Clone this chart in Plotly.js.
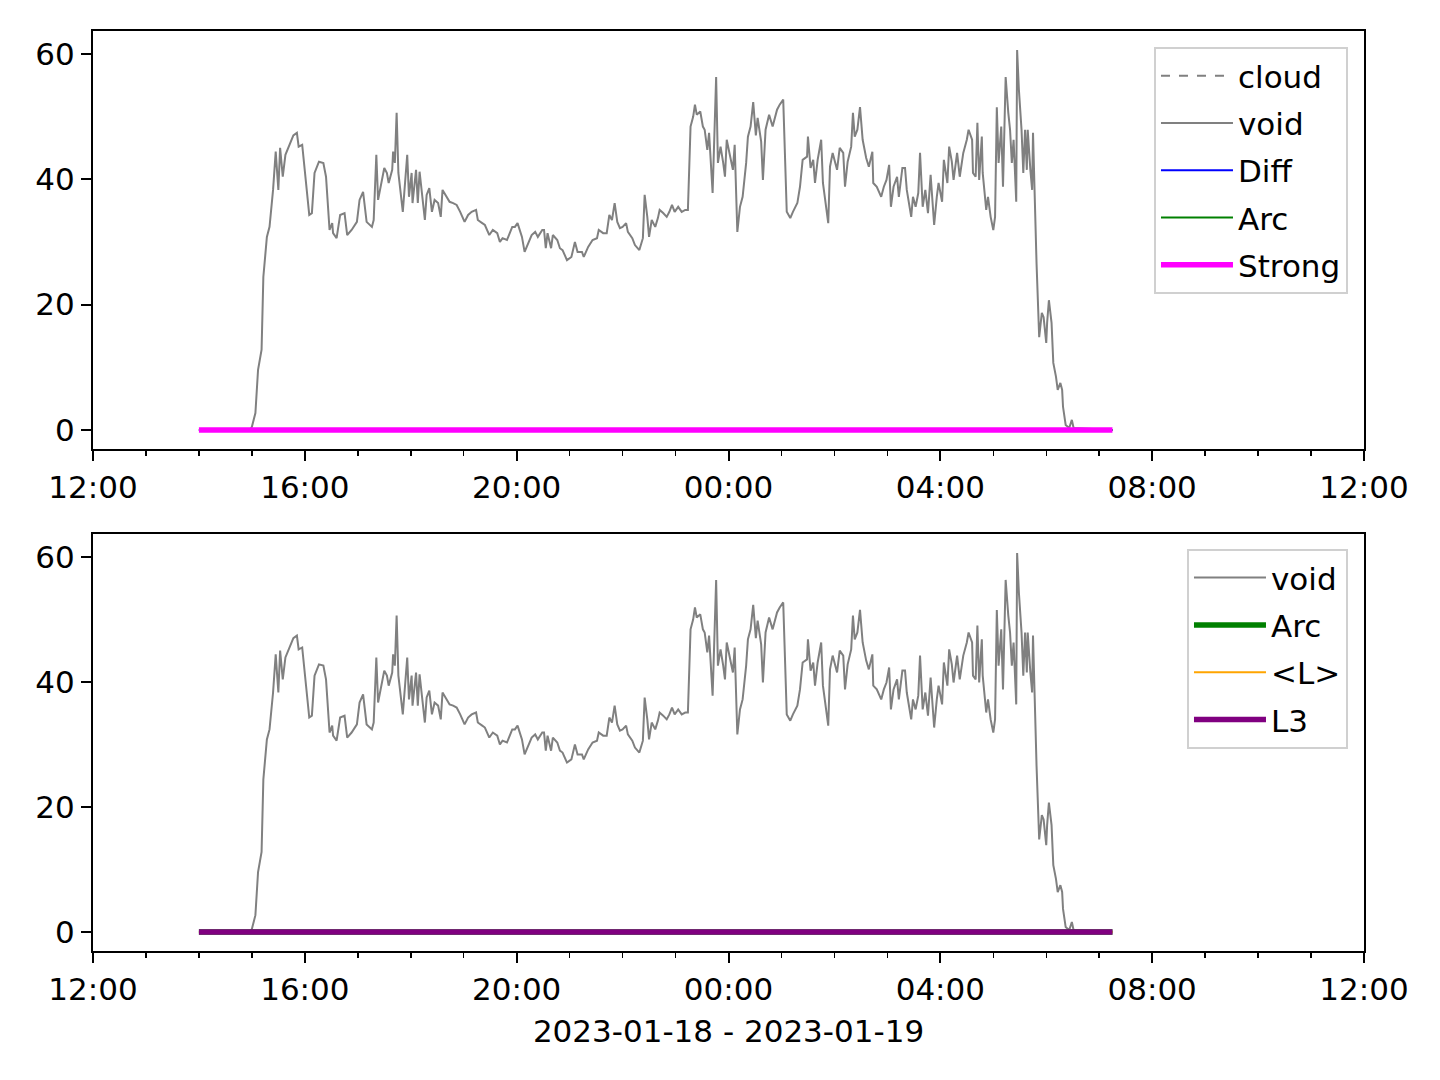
<!DOCTYPE html>
<html>
<head>
<meta charset="utf-8">
<script src="https://cdn.plot.ly/plotly-3.0.1.min.js"></script>
<style>html,body{margin:0;padding:0;background:#fff;}#chart{width:1440px;height:1080px;}</style>
</head>
<body>
<div id="chart"></div>
<script>
// minutes after 2023-01-18 12:00
const voidMinutes = [120,178,180,184,187,191,193,197,200,204,207,210,212,215,218,223,227,231,233,237,240,245,248,251,256,261,264,268,271,272,276,280,285,288,293,299,302,306,310,316,318,321,323,327,330,333,335,339,340,342,344,346,349,351,356,358,361,362,366,368,370,374,376,378,381,384,387,391,394,396,401,404,408,412,416,421,425,429,434,436,441,444,449,453,458,461,464,469,475,478,481,486,489,493,497,501,504,509,511,513,515,519,521,526,529,532,537,542,546,549,554,556,561,566,571,573,578,582,585,588,591,594,597,600,604,606,611,614,619,623,625,628,630,633,637,640,642,646,650,653,656,659,663,667,671,674,677,680,682,684,688,691,693,696,698,702,706,708,711,714,716,718,722,725,727,730,733,736,740,742,745,748,751,753,757,759,762,766,770,775,778,782,786,790,793,798,801,804,809,810,813,816,818,821,825,827,833,835,838,843,846,850,852,855,859,861,863,866,869,872,876,879,883,884,888,893,896,899,902,904,907,911,913,917,920,922,927,929,932,935,937,940,943,946,949,953,956,958,962,964,968,970,973,975,979,982,986,990,992,996,997,1000,1002,1004,1007,1008,1012,1014,1017,1020,1022,1024,1026,1029,1031,1034,1037,1039,1041,1043,1046,1047,1049,1052,1054,1056,1058,1059,1062,1064,1065,1067,1069,1072,1075,1077,1080,1081,1083,1086,1088,1091,1093,1096,1098,1099,1102,1106,1109,1111,1155];
const voidValues = [0,0,0.5,2.7,9.6,12.8,24.4,30.8,32.4,38.3,44.4,38.3,45,40.4,43.9,45.8,47,47.4,45.2,45.5,41,34.3,34.6,41,42.8,42.6,40.4,31.9,33,31.4,30.6,34.3,34.6,31.1,31.9,33.2,36.7,38,33.2,32.4,33.5,43.9,36.7,39.6,41.8,41,39.4,41.5,44.4,42.6,50.6,41,37.8,34.8,43.9,37.2,41,36.2,41.5,36.2,41.2,36.7,33.5,37.5,38.6,34.8,36.7,36.2,34,38.3,37,36.4,36.2,35.9,34.8,33.2,34.3,34.8,35.1,33.5,33,32.7,31.1,31.9,31.4,30,30.6,30.3,32.4,32.4,33,30.8,28.4,29.8,31.1,31.6,30.8,31.9,31.9,29,31.4,29,31.1,30.3,29,28.7,27.1,27.6,30,28.4,28.4,27.6,29.2,30.3,30.6,31.9,31.4,31.4,34.3,33.5,36.2,33.2,32.2,32.4,33,31.6,30.6,29.5,28.7,30.6,37.5,34,30.8,33.5,32.4,33.8,35.1,34.6,34,34.8,35.9,34.8,35.6,34.8,35.1,35.1,48.4,50,51.9,50.3,50.8,48.4,47.9,44.7,47.4,37.8,56.3,42.6,45.2,42.6,40.4,46.3,43.6,41.5,45.5,31.6,35.6,37.2,42.6,46.8,48.4,52.3,47,49.8,46,39.9,47.9,50.3,48.4,51.1,51.9,52.7,34.8,33.8,34.8,36.2,38.8,43.1,43.6,46.8,41.8,43.1,39.4,43.1,46.3,39.4,33,42,44.2,41.5,45,44.2,38.8,42.8,45.2,50.6,46.8,47.9,51.5,46.3,43.4,42,44.4,39.4,38.8,37.2,38.8,39.9,42.3,35.6,38.8,40.4,37.2,41.8,41.8,38.3,34,37.2,35.6,37.8,44.2,35.6,38.3,34.6,40.7,32.7,37.2,39.4,36.4,43.1,39.4,45.2,42.8,39.9,44.2,40.4,44.2,46.3,47.9,46.3,41,40.4,49,39.9,46.8,41,35.1,37.2,34,31.9,34,51.5,42.6,48.4,38.8,56.3,50.6,47.9,42.6,46.3,36.4,60.6,54.3,47.9,41,47.9,41.5,47.9,41.5,38.3,47.4,34.6,26.6,14.8,18.7,18,13.9,17.1,20.7,17.1,10.7,8.5,6.4,7.5,6.4,3.7,0.8,0.3,1.6,0.3,0];

const flatMinutes = [120, 1155];
const cloudValues = [0, 0];
const diffValues = [0, 0];
const arcValues = [0, 0];
const strongValues = [0, 0];
const lMeanValues = [0, 0];
const l3Values = [0, 0];

const xTitle = '2023-01-18 - 2023-01-19';
const rangeStart = '2023-01-18 12:00';
const rangeEnd = '2023-01-19 12:00';

function toDate(m) {
  const total = 12 * 60 + m;
  const day = 18 + Math.floor(total / 1440);
  const r = total % 1440;
  const hh = Math.floor(r / 60), mm = r % 60;
  const p = n => (n < 10 ? '0' : '') + n;
  return '2023-01-' + p(day) + ' ' + p(hh) + ':' + p(mm);
}
const vT = voidMinutes.map(toDate);
const fT = flatMinutes.map(toDate);

const FONT = 'DejaVu Sans, sans-serif';
const FS = 31;
const traces = [
  {x: fT, y: cloudValues, name: 'cloud', legendgroup: 'a1', mode: 'lines', line: {color: '#808080', width: 2, dash: 'dash'}, xaxis: 'x', yaxis: 'y', legend: 'legend'},
  {x: vT, y: voidValues, name: 'void', legendgroup: 'a2', mode: 'lines', line: {color: '#808080', width: 2}, xaxis: 'x', yaxis: 'y', legend: 'legend'},
  {x: fT, y: diffValues, name: 'Diff', legendgroup: 'a3', mode: 'lines', line: {color: '#0000ff', width: 2}, xaxis: 'x', yaxis: 'y', legend: 'legend'},
  {x: fT, y: arcValues, name: 'Arc', legendgroup: 'a4', mode: 'lines', line: {color: '#008000', width: 2}, xaxis: 'x', yaxis: 'y', legend: 'legend'},
  {x: fT, y: strongValues, name: 'Strong', legendgroup: 'a5', mode: 'lines', line: {color: '#ff00ff', width: 5.5}, xaxis: 'x', yaxis: 'y', legend: 'legend'},
  {x: vT, y: voidValues, name: 'void', legendgroup: 'b1', mode: 'lines', line: {color: '#808080', width: 2}, xaxis: 'x2', yaxis: 'y2', legend: 'legend2'},
  {x: fT, y: arcValues, name: 'Arc', legendgroup: 'b2', mode: 'lines', line: {color: '#008000', width: 5.5}, xaxis: 'x2', yaxis: 'y2', legend: 'legend2'},
  {x: fT, y: lMeanValues, name: '&lt;L&gt;', legendgroup: 'b3', mode: 'lines', line: {color: '#ffa500', width: 2}, xaxis: 'x2', yaxis: 'y2', legend: 'legend2'},
  {x: fT, y: l3Values, name: 'L3', legendgroup: 'b4', mode: 'lines', line: {color: '#800080', width: 5.5}, xaxis: 'x2', yaxis: 'y2', legend: 'legend2'}
];

function xAxis(anchor, title) {
  const a = {
    type: 'date', anchor: anchor, domain: [0, 1], range: [rangeStart, rangeEnd],
    tick0: rangeStart, dtick: 4 * 3600 * 1000, tickformat: '%H:%M',
    ticks: 'outside', ticklen: 10, tickwidth: 2, tickcolor: '#000',
    showline: true, linecolor: '#000', linewidth: 2, mirror: true,
    showgrid: false, zeroline: false,
    tickfont: {family: FONT, size: FS, color: '#000'},
    minor: {dtick: 3600 * 1000, tick0: rangeStart, ticks: 'outside', ticklen: 5, tickwidth: 1.5, tickcolor: '#000', showgrid: false}
  };
  if (title) a.title = {text: title, font: {family: FONT, size: FS, color: '#000'}, standoff: 14};
  return a;
}
function yAxis(anchor, domain) {
  return {
    anchor: anchor, domain: domain, range: [-3.03, 63.65],
    tick0: 0, dtick: 20, ticks: 'outside', ticklen: 10, tickwidth: 2, tickcolor: '#000',
    showline: true, linecolor: '#000', linewidth: 2, mirror: true,
    showgrid: false, zeroline: false,
    tickfont: {family: FONT, size: FS, color: '#000'}
  };
}
const legendStyle = {
  font: {family: FONT, size: FS, color: '#000'}, bgcolor: '#fff', bordercolor: '#d0d0d0', borderwidth: 2,
  xanchor: 'right', yanchor: 'top', xref: 'paper', yref: 'paper', tracegroupgap: 4, itemwidth: 72
};

const layout = {
  width: 1440, height: 1080,
  margin: {l: 93, r: 76, t: 31, b: 129, pad: 0},
  paper_bgcolor: '#fff', plot_bgcolor: '#fff',
  font: {family: FONT, size: FS, color: '#000'},
  showlegend: true,
  xaxis: xAxis('y'),
  yaxis: yAxis('x', [0.5457, 1]),
  xaxis2: xAxis('y2', xTitle),
  yaxis2: yAxis('x2', [0, 0.4533]),
  legend: Object.assign({}, legendStyle, {x: 0.9874, y: 0.9826}),
  legend2: Object.assign({}, legendStyle, {x: 0.9874, y: 0.437})
};

Plotly.newPlot('chart', traces, layout, {displayModeBar: false, staticPlot: true});
</script>
</body>
</html>
